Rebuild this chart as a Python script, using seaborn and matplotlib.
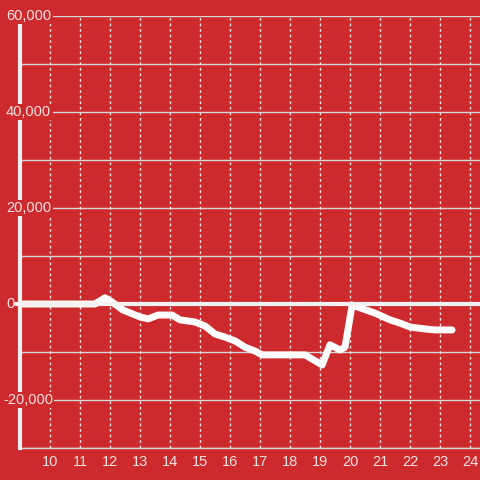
import numpy as np
import pandas as pd
import seaborn as sns
import matplotlib.pyplot as plt

# values
hours = [9.0, 11.5, 11.83, 12.07, 12.43, 13.0, 13.27, 13.6, 14.07, 14.33, 14.83,
         15.17, 15.5, 15.83, 16.17, 16.5, 16.83, 17.07, 18.5, 19.07, 19.33,
         19.67, 19.83, 20.07, 20.33, 20.83, 21.33, 21.67, 22.0, 22.5, 22.83, 23.4]
balance = [0, 0, 1300, 400, -1250, -2700, -3100, -2300, -2300, -3300, -3750,
           -4600, -6250, -6900, -7700, -9000, -9800, -10600, -10600, -12700, -8500,
           -9600, -9000, -200, -800, -1900, -3300, -4000, -4800, -5200, -5400, -5400]
x_ticks = list(range(10, 25))
y_grid = list(range(-30000, 60001, 10000))
y_labels = [60000, 40000, 20000, 0, -20000]

df = pd.DataFrame({"hour": hours, "balance": balance})

red = "#cd2a2e"
label_col = "#f3e4e4"

sns.set_style("white")
plt.rcParams["font.family"] = ["Liberation Sans", "DejaVu Sans"]

fig = plt.figure(figsize=(4.8, 4.8), dpi=100, facecolor=red)
ax = fig.add_axes([20 / 480, 32 / 480, 460 / 480, 432 / 480])
ax.set_facecolor(red)

# grid
for v in y_grid:
    if v == 0:
        continue
    ax.axhline(v, color="#d6d6d6", lw=1, zorder=1)
for t in x_ticks:
    ax.axvline(t, color="#e8e0e0", lw=1, ls=(0, (2, 2)), zorder=1)
# zero line sticks out a little over the left axis
ax.axhline(0, xmin=-4 / 460, color="#f7f2f2", lw=3, zorder=6, clip_on=False)

sns.lineplot(data=df, x="hour", y="balance", ax=ax, color="white",
             linewidth=5, zorder=3)

ax.set_xlim(9, 24.33)
ax.set_ylim(-30000, 60000)
ax.set_xticks(x_ticks)
ax.set_xticklabels([str(t) for t in x_ticks])
ax.set_yticks([])
ax.set_xlabel("")
ax.set_ylabel("")
ax.tick_params(axis="x", length=0, pad=5, labelsize=10.5, labelcolor=label_col)

for s in ["top", "right"]:
    ax.spines[s].set_visible(False)
ax.spines["left"].set_color("#f5f0f0")
ax.spines["left"].set_linewidth(3)
ax.spines["left"].set_zorder(4)
ax.spines["bottom"].set_color("#d6d6d6")
ax.spines["bottom"].set_linewidth(1)

for v in y_labels:
    ax.annotate(f"{v:,}", xy=(0, v), xycoords=("axes fraction", "data"),
                xytext=(-14 if v >= 0 else -17, 0), textcoords="offset pixels",
                ha="left", va="center",
                fontsize=10.5, color=label_col, annotation_clip=False, zorder=5,
                bbox=dict(facecolor=red, edgecolor="none", pad=1))

fig.savefig("out.png", dpi=100, facecolor=red)
